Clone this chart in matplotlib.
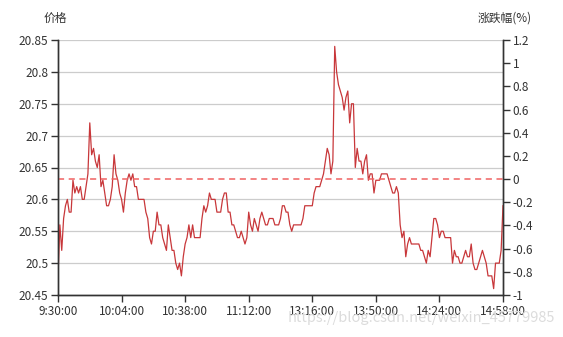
import numpy as np
import pandas as pd
import matplotlib.pyplot as plt

plt.rcParams['font.family'] = ['Noto Sans CJK SC', 'DejaVu Sans']

# minute prices, stored as cents above 20.00
price_cents = [
    48, 56, 52, 57, 59, 60, 58, 58, 63, 61,
    62, 61, 62, 60, 60, 62, 64, 72, 67, 68,
    66, 65, 67, 62, 63, 61, 59, 59, 60, 62,
    67, 64, 63, 61, 60, 58, 61, 63, 64, 63,
    64, 62, 62, 60, 60, 60, 60, 58, 57, 54,
    53, 55, 55, 58, 56, 56, 54, 53, 52, 56,
    54, 52, 52, 50, 49, 50, 48, 51, 53, 54,
    56, 54, 56, 54, 54, 54, 54, 57, 59, 58,
    59, 61, 60, 60, 60, 58, 58, 58, 60, 61,
    61, 58, 58, 56, 56, 55, 54, 54, 55, 54,
    53, 54, 58, 56, 55, 57, 56, 55, 57, 58,
    57, 56, 56, 57, 57, 57, 56, 56, 56, 57,
    59, 59, 58, 58, 56, 55, 56, 56, 56, 56,
    56, 57, 59, 59, 59, 59, 59, 61, 62, 62,
    62, 63, 64, 66, 68, 67, 64, 66, 84, 80,
    78, 77, 76, 74, 76, 77, 72, 75, 75, 65,
    68, 66, 66, 64, 66, 67, 63, 64, 64, 61,
    63, 63, 63, 64, 64, 64, 64, 63, 62, 61,
    61, 62, 61, 56, 54, 55, 51, 53, 54, 53,
    53, 53, 53, 53, 52, 52, 51, 50, 52, 51,
    54, 57, 57, 56, 54, 55, 55, 54, 54, 54,
    54, 50, 52, 51, 51, 50, 50, 51, 52, 51,
    51, 53, 50, 49, 49, 50, 51, 52, 51, 50,
    48, 48, 48, 46, 50, 50, 50, 52, 59,
]
prices = 20 + np.array(price_cents) / 100

# trading minutes (lunch break skipped)
morning = pd.date_range('09:30', '11:30', freq='min')
afternoon = pd.date_range('13:01', '14:58', freq='min')
times = [t.strftime('%H:%M:%S').lstrip('0') if t.hour < 10 else t.strftime('%H:%M:%S')
         for t in morning.append(afternoon)]

price_ticks = [20.45, 20.5, 20.55, 20.6, 20.65, 20.7, 20.75, 20.8, 20.85]
pct_ticks = [-1, -0.8, -0.6, -0.4, -0.2, 0, 0.2, 0.4, 0.6, 0.8, 1, 1.2]

x = np.arange(len(prices))
axis_c = '#333333'

fig = plt.figure(figsize=(5.63, 3.37), dpi=100)
ax = fig.add_axes([58 / 563, 1 - 295 / 337, 445 / 563, 255 / 337])
ax2 = ax.twinx()

ax.plot(x, prices, color='#c8373a', lw=0.9, zorder=3)
ax.set_xlim(0, len(prices) - 1)
ax.set_ylim(20.45, 20.85)
ax.set_yticks(price_ticks)
ax.set_yticklabels([f'{v:g}' for v in price_ticks])
ax.grid(axis='y', color='#cccccc', lw=0.9)
ax.set_axisbelow(True)

ax.set_xticks(x[::34])
ax.set_xticklabels([times[i] for i in x[::34]])

ax2.set_ylim(-1, 1.2)
ax2.set_yticks(pct_ticks)
ax2.set_yticklabels([f'{v:g}' for v in pct_ticks])
ax2.axhline(0, color='#f06262', lw=1.1, ls=(0, (4, 3)), zorder=2)

for a in (ax, ax2):
    a.spines['top'].set_visible(False)
    for s in ('left', 'right', 'bottom'):
        a.spines[s].set_color(axis_c)
        a.spines[s].set_linewidth(1)
    a.tick_params(colors=axis_c, labelsize=8.5, length=5, width=1, pad=2)

fig.text(55 / 563, 1 - 18 / 337, '价格', ha='center', va='center',
         fontsize=8.5, color=axis_c)
fig.text(505 / 563, 1 - 18 / 337, '涨跌幅(%)', ha='center', va='center',
         fontsize=8.5, color=axis_c)
# faint watermark, sits over the tick labels as in the source image
fig.text(555 / 563, 1 - 318 / 337, 'https://blog.csdn.net/weixin_45779985',
         ha='right', va='center', fontsize=10.5, color='#dcdcdc', zorder=0)

fig.savefig('out.png', dpi=100)
